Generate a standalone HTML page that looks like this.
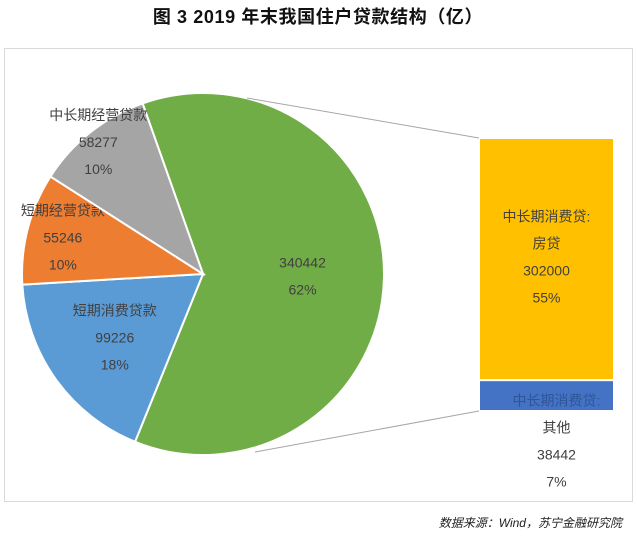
<!DOCTYPE html>
<html><head><meta charset="utf-8">
<style>
body{margin:0;background:#fff;}
svg{display:block;font-family:"Liberation Sans","Noto Sans CJK SC",sans-serif;}
</style></head>
<body>
<svg id="chart" width="637" height="537" viewBox="0 0 637 537">
<text x="318" y="23" text-anchor="middle" font-size="18" font-weight="bold" fill="#111" letter-spacing="0.6">图 3  2019 年末我国住户贷款结构（亿）</text>
<rect x="4.5" y="48.5" width="628" height="453" fill="none" stroke="#d9d9d9"/>
<g id="pie"></g>
<g id="bar"></g>
<text x="622" y="527" text-anchor="end" font-size="12" font-style="italic" fill="#222">数据来源：Wind，苏宁金融研究院</text>
</svg>
<script>
const pieLabels = ["中长期消费贷", "短期消费贷款", "短期经营贷款", "中长期经营贷款"];
const pieValues = [340442, 99226, 55246, 58277];
const piePcts = ["62%", "18%", "10%", "10%"];
const pieColors = ["#70ad47", "#5b9bd5", "#ed7d31", "#a5a5a5"];
const barLabels = ["房贷", "其他"];
const barValues = [302000, 38442];
const barPcts = ["55%", "7%"];
const barColors = ["#ffc000", "#4472c4"];

const NS = "http://www.w3.org/2000/svg";
const cx = 203, cy = 274, r = 181, startDeg = -19.5;
const total = pieValues.reduce((a, b) => a + b, 0);
function pt(deg, rad) { const a = deg * Math.PI / 180; return [cx + rad * Math.sin(a), cy - rad * Math.cos(a)]; }
function mk(tag, attrs, parent) { const e = document.createElementNS(NS, tag); for (const k in attrs) e.setAttribute(k, attrs[k]); parent.appendChild(e); return e; }
const pie = document.getElementById("pie");
const bar = document.getElementById("bar");
const svg = document.getElementById("chart");
const labelR = [0.55, 0.6, 0.8, 0.93];

let ang = startDeg;
pieValues.forEach((v, i) => {
  const span = v / total * 360;
  const [x1, y1] = pt(ang, r), [x2, y2] = pt(ang + span, r);
  const p = mk("path", { d: `M${cx},${cy} L${x1},${y1} A${r},${r} 0 ${span > 180 ? 1 : 0} 1 ${x2},${y2} Z`, fill: pieColors[i], stroke: "#fff", "stroke-width": 2 }, pie);
  
  
  const mid = ang + span / 2;
  const [lx, ly] = pt(mid, r * labelR[i]);
  const lines = i === 0 ? [String(v), piePcts[i]] : [pieLabels[i], String(v), piePcts[i]];
  const t = mk("text", { x: lx, y: ly - (lines.length - 1) * 13.5 + 5, "text-anchor": "middle", "font-size": 14, fill: "#404040" }, pie);
  
  
  lines.forEach((s, j) => { const ts = mk("tspan", { x: lx, dy: j ? 27 : 0 }, t); ts.textContent = s; });
  ang += span;
});

const bx = 479, bw = 135, btop = 138, bh = 273;
const bsum = barValues.reduce((a, b) => a + b, 0);
let y = btop;
barValues.forEach((v, i) => {
  const h = v / bsum * bh;
  const rc = mk("rect", { x: bx, y: y, width: bw, height: h, fill: barColors[i], stroke: "#fff", "stroke-width": 2 }, bar);
  
  
  const lines = ["中长期消费贷:", barLabels[i], String(v), barPcts[i]];
  let lx = bx + bw / 2, ly;
  if (i === 0) { ly = y + h * 0.345; } else { lx = bx + bw / 2 + 10; ly = y + h / 2 + 10; }
  const t = mk("text", { x: lx, y: ly, "text-anchor": "middle", "font-size": 14, fill: "#404040" }, bar);
  
  
  lines.forEach((s, j) => { const ts = mk("tspan", { x: lx, dy: j ? 27 : 0 }, t); ts.textContent = s; if (i === 1 && j === 0) ts.setAttribute("fill", "#2f5597"); });
  y += h;
});
const l1 = mk("line", { x1: 247, y1: 98, x2: bx, y2: btop, stroke: "#a6a6a6", "stroke-width": 1 }, svg);


const l2 = mk("line", { x1: 255, y1: 452, x2: bx, y2: btop + bh, stroke: "#a6a6a6", "stroke-width": 1 }, svg);


</script>
</body></html>
